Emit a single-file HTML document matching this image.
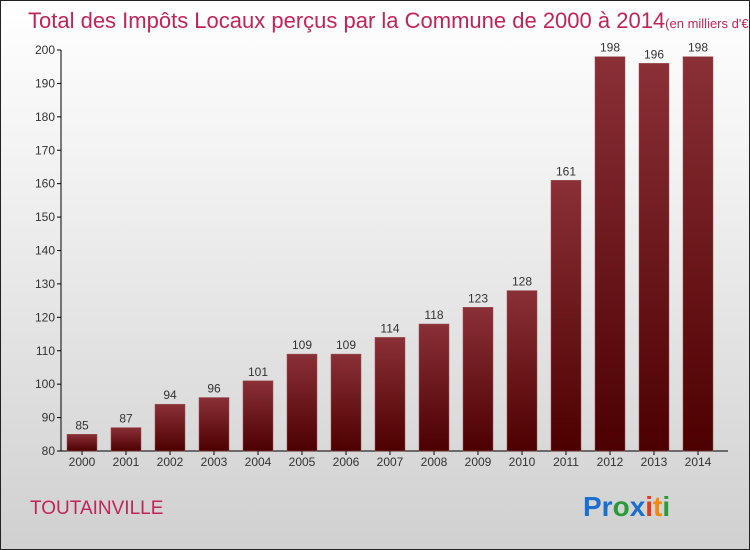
<!DOCTYPE html>
<html><head><meta charset="utf-8"><style>
html,body{margin:0;padding:0}
body{width:750px;height:550px;overflow:hidden;font-family:"Liberation Sans",sans-serif}
#frame{position:absolute;left:0;top:0;width:748px;height:548px;border:1px solid #222;background:linear-gradient(#ffffff,#f2f2f2 30%,#d0d0d0)}
</style></head><body>
<div id="frame">
<svg width="750" height="550" xmlns="http://www.w3.org/2000/svg" style="position:absolute;left:-1px;top:-1px">
<defs><linearGradient id="bg" x1="0" y1="0" x2="0" y2="1"><stop offset="0" stop-color="#8a3036"/><stop offset="1" stop-color="#4d0000"/></linearGradient></defs>
<text x="28" y="28" font-size="22" fill="#c0245a" style="font-weight:300">Total des Impôts Locaux perçus par la Commune de 2000 à 2014<tspan font-size="13">(en milliers d'€)</tspan></text>
<g id="axes"></g><g id="bars"></g>
<text x="30" y="514" font-size="19" fill="#c0245a">TOUTAINVILLE</text>
<text x="583" y="516" font-size="28" font-weight="bold"><tspan fill="#1a6fd0">Pr</tspan><tspan fill="#2a9a3a">o</tspan><tspan fill="#1a6fd0">x</tspan><tspan fill="#e03a1a">i</tspan><tspan fill="#f08a10">t</tspan><tspan fill="#2a9a3a">i</tspan></text>
</svg>
</div>
<script>
const years=["2000","2001","2002","2003","2004","2005","2006","2007","2008","2009","2010","2011","2012","2013","2014"];
const values=[85,87,94,96,101,109,109,114,118,123,128,161,198,196,198];
const ticks=[80,90,100,110,120,130,140,150,160,170,180,190,200];
const NS="http://www.w3.org/2000/svg";
const x0=61,slot=44,bw=30,yMin=80,yMax=200,yTop=50,yBot=451;
const y=v=>yBot-(v-yMin)/(yMax-yMin)*(yBot-yTop);
const xc=i=>x0+slot*i+21;
function mk(t,a,p){const e=document.createElementNS(NS,t);for(const k in a)e.setAttribute(k,a[k]);p.appendChild(e);return e;}
const ax=document.getElementById('axes'),bars=document.getElementById('bars');
const yl=mk('line',{x1:x0,y1:yTop,x2:x0,y2:yBot,stroke:'#000'},ax);


const xl=mk('line',{x1:x0,y1:yBot,x2:728,y2:yBot,stroke:'#000'},ax);


ticks.forEach(t=>{
 mk('line',{x1:x0-4,y1:y(t),x2:x0,y2:y(t),stroke:'#000'},ax);
 const tx=mk('text',{x:x0-6,y:y(t)+4,'font-size':12,'text-anchor':'end',fill:'#333'},ax);
 tx.textContent=t;
 
 
});
years.forEach((yr,i)=>{
 const v=values[i];
 const r=mk('rect',{x:xc(i)-bw/2,y:y(v),width:bw,height:yBot-y(v),fill:'url(#bg)',stroke:'#9a5055','stroke-width':0.5},bars);
 
 
 const lb=mk('text',{x:xc(i),y:y(v)-5,'font-size':12,'text-anchor':'middle',fill:'#333'},bars);
 lb.textContent=v;
 
 
 mk('line',{x1:xc(i),y1:yBot,x2:xc(i),y2:yBot+4,stroke:'#000'},ax);
 const xt=mk('text',{x:xc(i),y:466,'font-size':12,'text-anchor':'middle',fill:'#333'},ax);
 xt.textContent=yr;
 
 
});
</script>
</body></html>
